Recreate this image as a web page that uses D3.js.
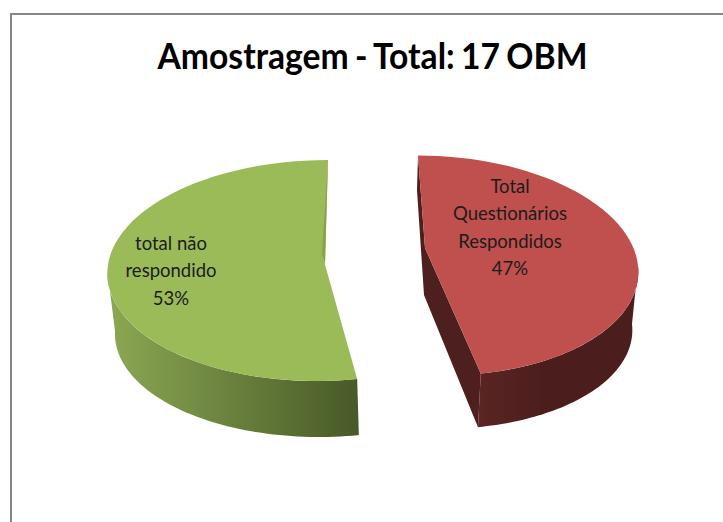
<!DOCTYPE html>
<html>
  <body style="margin:0;background:#fff">
    <script src="https://d3js.org/d3.v7.min.js"></script>
    <script type="text/javascript">
      const categories = ['Total Questionários Respondidos', 'total não respondido'];
      const values = [47, 53];
      const labelLines = [['Total', 'Questionários', 'Respondidos'], ['total não', 'respondido']];
      const chartTitle = 'Amostragem - Total: 17 OBM';

      const width = 723;
      const height = 522;

      // each slice is exploded and skewed a bit differently, like the 3D pie in Excel
      const layout = [
        {
          top: {cx: 430, cy: 265.5, rx: 208, ry: 110, skew: -12},
          bottom: {cx: 428, cy: 324, rx: 204, ry: 105, skew: -12},
          inner: [[425, 248]],
          cutSide: [[417, 190], [424, 295]],
          face: '#c0504d',
          wallFrom: '#5a2523',
          wallTo: '#4b1e1d',
          wallRange: [Math.PI * 0.5, null],
          labelX: 510,
          labelY: 193,
        },
        {
          top: {cx: 322.4, cy: 270.5, rx: 215, ry: 110.5, skew: 5.6},
          bottom: {cx: 325, cy: 331, rx: 210, ry: 106, skew: 5.6},
          inner: [[322, 254], [325, 264]],
          face: '#9bbb59',
          sliver: '#86a34e',
          wallFrom: '#8ca853',
          wallTo: '#475927',
          wallRange: [null, Math.PI * 1.5],
          labelX: 171,
          labelY: 250,
        },
      ];

      const svg = d3.select('body')
        .append('svg')
        .attr('width', width)
        .attr('height', height)
        .style('display', 'block');

      const defs = svg.append('defs');

      svg.append('path')
        .attr('d', `M${width},14H11V${height}`)
        .attr('fill', 'none')
        .attr('stroke', '#868686')
        .attr('stroke-width', 2);

      svg.append('text')
        .attr('x', 372.5)
        .attr('y', 69)
        .attr('text-anchor', 'middle')
        .attr('font-family', 'Lato')
        .attr('font-weight', 'bold')
        .attr('font-size', 36)
        .attr('word-spacing', -2)
        .attr('textLength', 430)
        .attr('lengthAdjust', 'spacingAndGlyphs')
        .attr('fill', '#000')
        .text(chartTitle);

      const pie = d3.pie().sort(null).value((d) => d);
      const arcs = pie(values);

      const rimPoint = (e, a) => [
        e.cx + e.rx * Math.sin(a) + e.skew * Math.cos(a),
        e.cy - e.ry * Math.cos(a),
      ];

      const rim = (e, a0, a1) => d3.range(0, 61).map((i) => rimPoint(e, a0 + (a1 - a0) * i / 60));
      const line = d3.line();

      arcs.forEach((d, i) => {
        const s = layout[i];
        const g = svg.append('g').attr('class', 'slice');

        const wallStart = s.wallRange[0] === null ? d.startAngle : s.wallRange[0];
        const wallEnd = s.wallRange[1] === null ? d.endAngle : s.wallRange[1];
        const upper = rim(s.top, wallStart, wallEnd);
        const lower = rim(s.bottom, wallStart, wallEnd).reverse();

        // green wall gets darker to the right, red one to the left of its tip
        const gradientId = `wall-${i}`;
        const xs = upper.concat(lower).map((p) => p[0]);
        const gradient = defs.append('linearGradient')
          .attr('id', gradientId)
          .attr('gradientUnits', 'userSpaceOnUse')
          .attr('x1', d3.min(xs))
          .attr('x2', d3.max(xs))
          .attr('y1', 0)
          .attr('y2', 0);
        gradient.append('stop').attr('offset', 0).attr('stop-color', s.wallFrom);
        gradient.append('stop').attr('offset', i === 0 ? 0.4 : 1).attr('stop-color', s.wallTo);

        // red slice shows its cut side, drawn behind the front wall
        if (s.cutSide) {
          g.append('path')
            .attr('d', line([
              rimPoint(s.top, d.startAngle),
              ...s.cutSide,
              rimPoint(s.bottom, d.endAngle),
              rimPoint(s.top, d.endAngle),
              s.inner[0],
            ]) + 'Z')
            .attr('fill', '#4d1f1e');
        }

        g.append('path')
          .attr('d', line(upper.concat(lower)) + 'Z')
          .attr('fill', `url(#${gradientId})`);

        g.append('path')
          .attr('d', line(rim(s.top, d.startAngle, d.endAngle).concat(s.inner.slice().reverse())) + 'Z')
          .attr('fill', s.face);

        // thin sliver of the cut side on the green slice
        if (s.sliver) {
          g.append('path')
            .attr('d', line([rimPoint(s.top, d.endAngle), s.inner[1], s.inner[0]]) + 'Z')
            .attr('fill', s.sliver);
        }

        const lines = labelLines[i].concat(`${values[i]}%`);
        g.append('text')
          .attr('font-family', 'Lato')
          .attr('font-size', 18.5)
          .attr('fill', '#1c1c1c')
          .attr('text-anchor', 'middle')
          .selectAll('tspan')
          .data(lines)
          .enter()
          .append('tspan')
          .attr('x', s.labelX)
          .attr('y', (t, j) => s.labelY + j * 27.4)
          .text((t) => t);
      });
    </script>
  </body>
</html>
